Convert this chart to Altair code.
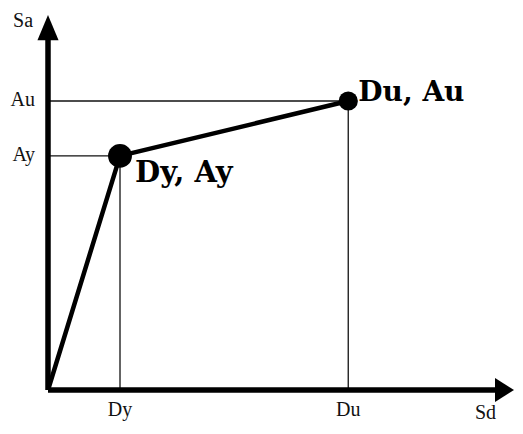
import altair as alt
import pandas as pd

# --- data (arbitrary units) ---
sd_labels = ["Dy", "Du"]
sa_labels = ["Ay", "Au"]
sd_vals = [1.0, 4.17]
sa_vals = [0.81, 1.0]
point_labels = ["Dy, Ay", "Du, Au"]
sd_axis_end = 6.472
sa_axis_end = 1.2976

FONT = "Liberation Serif"
BFONT = "DejaVu Serif"

xs = alt.Scale(domain=[-0.5556, 6.4861], nice=False, zero=False)
ys = alt.Scale(domain=[-0.12457, 1.3218], nice=False, zero=False)


def X(f):
    return alt.X(f, type="quantitative", scale=xs, axis=None)


def Y(f):
    return alt.Y(f, type="quantitative", scale=ys, axis=None)


curve = pd.DataFrame({"sd": [0.0] + sd_vals, "sa": [0.0] + sa_vals, "o": [0, 1, 2]})
pts = pd.DataFrame({"sd": sd_vals, "sa": sa_vals, "lab": point_labels, "sdl": sd_labels, "sal": sa_labels})
axes = pd.DataFrame({"x1": [0.0, 0.0], "y1": [0.0, 0.0],
                     "x2": [sd_axis_end - 0.15, 0.0], "y2": [0.0, sa_axis_end - 0.05]})

# thin guide lines
hguide = alt.Chart(pts).mark_rule(color="#111", strokeWidth=1.3).encode(
    x=alt.X("zero:Q", scale=xs, axis=None), x2="sd:Q", y=Y("sa")
).transform_calculate(zero="0")
vguide = alt.Chart(pts).mark_rule(color="#111", strokeWidth=1.3).encode(
    x=X("sd"), y=alt.Y("zero:Q", scale=ys, axis=None), y2="sa:Q"
).transform_calculate(zero="0")

axis_lines = alt.Chart(axes).mark_rule(color="black", strokeWidth=5.5).encode(
    x=X("x1"), y=Y("y1"), x2="x2:Q", y2="y2:Q"
)

line = alt.Chart(curve).mark_line(color="black", strokeWidth=4.5, strokeJoin="round").encode(
    x=X("sd"), y=Y("sa"), order="o:Q"
)

p1 = alt.Chart(pts.iloc[[0]]).mark_circle(color="black", opacity=1, size=570).encode(x=X("sd"), y=Y("sa"))
p2 = alt.Chart(pts.iloc[[1]]).mark_circle(color="black", opacity=1, size=370).encode(x=X("sd"), y=Y("sa"))

xarrow_df = pd.DataFrame({"x": [sd_axis_end], "y": [0.0]})
yarrow_df = pd.DataFrame({"x": [0.0], "y": [sa_axis_end]})
xarrow = alt.Chart(xarrow_df).mark_point(
    shape="M0,0L-1.58,-1L-1.58,1Z", size=576, filled=True, color="black", opacity=1, strokeWidth=0
).encode(x=X("x"), y=Y("y"))
yarrow = alt.Chart(yarrow_df).mark_point(
    shape="M0,0L0.88,2.1L-0.88,2.1Z", size=576, filled=True, color="black", opacity=1, strokeWidth=0
).encode(x=X("x"), y=Y("y"))

# labels
sd_tick = alt.Chart(pts).mark_text(font=FONT, fontSize=20, color="#111", dy=26, baseline="alphabetic").encode(
    x=X("sd"), y=alt.Y("zero:Q", scale=ys, axis=None), text="sdl:N"
).transform_calculate(zero="0")
sa_tick = alt.Chart(pts).mark_text(font=FONT, fontSize=20, color="#111", dx=-13, dy=5,
                                   align="right", baseline="alphabetic").encode(
    x=alt.X("zero:Q", scale=xs, axis=None), y=Y("sa"), text="sal:N"
).transform_calculate(zero="0")

sa_name = alt.Chart(yarrow_df).mark_text(font=FONT, fontSize=20, color="#111", dx=-15, dy=12,
                                         align="right", baseline="alphabetic").encode(
    x=X("x"), y=Y("y"), text=alt.value("Sa")
)
sd_name = alt.Chart(xarrow_df).mark_text(font=FONT, fontSize=20, color="#111", dx=-39, dy=29,
                                         align="left", baseline="alphabetic").encode(
    x=X("x"), y=Y("y"), text=alt.value("Sd")
)

lab1 = alt.Chart(pts.iloc[[0]]).mark_text(font=BFONT, fontSize=29, fontWeight="bold", color="black",
                                          align="left", baseline="alphabetic", dx=15, dy=26).encode(
    x=X("sd"), y=Y("sa"), text="lab:N"
)
lab2 = alt.Chart(pts.iloc[[1]]).mark_text(font=BFONT, fontSize=28, fontWeight="bold", color="black",
                                          align="left", baseline="alphabetic", dx=10, dy=0).encode(
    x=X("sd"), y=Y("sa"), text="lab:N"
)

chart = alt.layer(
    hguide, vguide, axis_lines, line, p1, p2, xarrow, yarrow,
    sd_tick, sa_tick, sa_name, sd_name, lab1, lab2
).properties(
    width=507, height=418, padding=0, autosize=alt.AutoSizeParams(type="none"), background="white"
).configure_view(stroke=None)

chart.save("out.html", embed_options={"renderer": "svg", "actions": False})
